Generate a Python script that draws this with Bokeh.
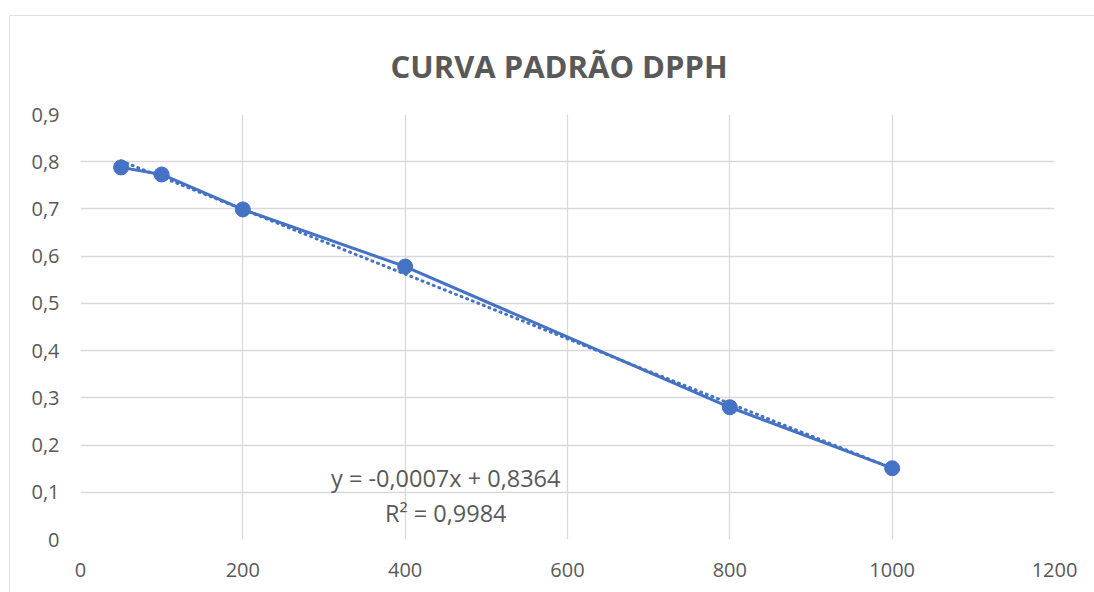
import numpy as np
from bokeh.plotting import figure
from bokeh.models import FixedTicker, ColumnDataSource
from bokeh.core.properties import value
from bokeh.embed import file_html
from bokeh.resources import INLINE

# data
conc = [50, 100, 200, 400, 800, 1000]
absorb = [0.788, 0.773, 0.699, 0.578, 0.280, 0.151]
x_ticks = [0, 200, 400, 600, 800, 1000, 1200]
y_ticks = [0, 0.1, 0.2, 0.3, 0.4, 0.5, 0.6, 0.7, 0.8, 0.9]
y_tick_labels = ["0", "0,1", "0,2", "0,3", "0,4", "0,5", "0,6", "0,7", "0,8", "0,9"]
title_text = "CURVA PADRÃO DPPH"
eq_text = "y = -0,0007x + 0,8364"
r2_text = "R² = 0,9984"

BLUE = "#4472C4"
GRAY = "#595959"
GRID = "#d9d9d9"
FONT = "Open Sans"

p = figure(width=1085, height=585, output_backend="svg", toolbar_location=None,
           x_range=(0, 1200), y_range=(0, 0.9),
           min_border_left=71, min_border_right=40, min_border_top=99, min_border_bottom=61)
p.margin = (15, 0, 0, 9)
p.styles = {"outline": "1px solid #d9d9d9", "outline-offset": "-1px"}
p.outline_line_color = None
p.background_fill_color = "white"

p.title.text = title_text
p.title.align = "left"
p.title.offset = 310
p.title.text_font = FONT
p.title.text_font_size = "31px"
p.title.text_font_style = "bold"
p.title.text_color = GRAY
p.title.standoff = 55

for ax in (p.xaxis[0], p.yaxis[0]):
    ax.axis_line_color = None
    ax.major_tick_line_color = None
    ax.minor_tick_line_color = None
    ax.major_label_text_color = GRAY
    ax.major_label_text_font = FONT
    ax.major_label_text_font_size = "20px"
p.xaxis[0].ticker = FixedTicker(ticks=x_ticks)
p.yaxis[0].ticker = FixedTicker(ticks=y_ticks)
p.yaxis[0].major_label_overrides = {t: l for t, l in zip(y_ticks, y_tick_labels)}
p.xaxis[0].major_label_standoff = 17
p.yaxis[0].major_label_standoff = 15

p.xgrid.ticker = FixedTicker(ticks=x_ticks)
p.ygrid.ticker = FixedTicker(ticks=y_ticks)
p.xgrid.grid_line_color = GRID
p.ygrid.grid_line_color = GRID
p.xgrid.grid_line_width = 1.3
p.ygrid.grid_line_width = 1.3

# trendline (linear least squares fit of the data)
slope, intercept = np.polyfit(conc, absorb, 1)
tx = [conc[0], conc[-1]]
ty = [slope * v + intercept for v in tx]
p.line(tx, ty, line_color=BLUE, line_width=3, line_dash="1 5", line_cap="round")

src = ColumnDataSource(dict(x=conc, y=absorb))
p.line("x", "y", source=src, line_color=BLUE, line_width=3)
p.scatter("x", "y", source=src, size=15, fill_color=BLUE, line_color=BLUE)

p.text(x=[450], y=[0.131], text=[eq_text], text_align="center", text_baseline="middle",
       text_font=value(FONT), text_font_size="23.5px", text_color=GRAY)
p.text(x=[450], y=[0.057], text=[r2_text], text_align="center", text_baseline="middle",
       text_font=value(FONT), text_font_size="23.5px", text_color=GRAY)

open("out.html", "w").write(file_html(p, INLINE))
